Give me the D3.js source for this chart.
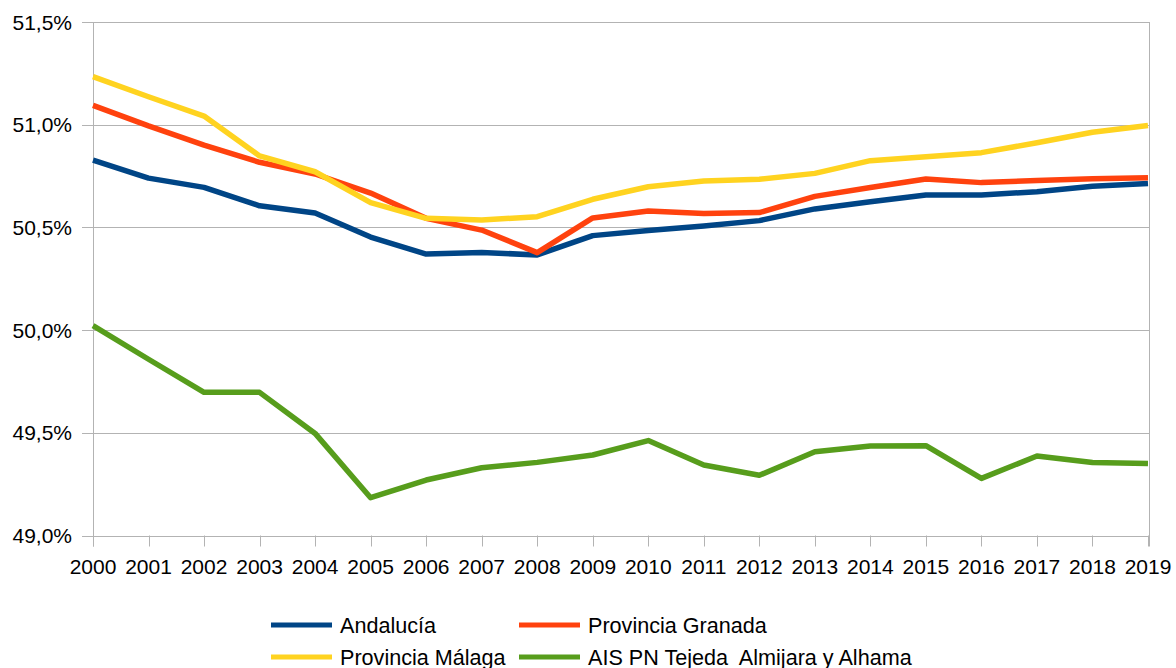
<!DOCTYPE html>
<html>
<head>
<meta charset="utf-8">
<script src="https://cdn.jsdelivr.net/npm/d3@7"></script>
<style>
  body { margin: 0; background: #fff; }
  svg text { font-family: "Liberation Sans", Arial, sans-serif; fill: #000; white-space: pre; }
</style>
</head>
<body>
<div id="visualization"></div>
<script>
// years on the x axis
var years = [2000, 2001, 2002, 2003, 2004, 2005, 2006, 2007, 2008, 2009,
             2010, 2011, 2012, 2013, 2014, 2015, 2016, 2017, 2018, 2019];

// values in %
var andalucia = [50.828, 50.740, 50.695, 50.605, 50.570, 50.453, 50.370, 50.378, 50.366, 50.460,
                 50.485, 50.507, 50.533, 50.590, 50.625, 50.658, 50.658, 50.674, 50.700, 50.714];
var granada   = [51.094, 50.994, 50.901, 50.817, 50.760, 50.667, 50.544, 50.487, 50.377, 50.546,
                 50.580, 50.568, 50.572, 50.651, 50.694, 50.736, 50.718, 50.728, 50.737, 50.742];
var malaga    = [51.234, 51.136, 51.042, 50.848, 50.771, 50.621, 50.544, 50.536, 50.552, 50.637,
                 50.698, 50.726, 50.734, 50.763, 50.825, 50.844, 50.864, 50.912, 50.963, 50.996];
var ais       = [50.022, 49.858, 49.697, 49.697, 49.497, 49.184, 49.270, 49.330, 49.356, 49.392,
                 49.462, 49.343, 49.293, 49.408, 49.436, 49.437, 49.278, 49.387, 49.355, 49.350];

var yTicks = [49.0, 49.5, 50.0, 50.5, 51.0, 51.5];

var seriesNames = ["Andalucía", "Provincia Granada", "Provincia Málaga", "AIS PN Tejeda  Almijara y Alhama"];
var seriesColors = ["#004586", "#ff420e", "#ffd320", "#579d1c"];
var seriesValues = [andalucia, granada, malaga, ais];

var width = 1176, height = 668;
// plot area (window.top is reserved, so no "top" here)
var plotLeft = 93, plotRight = 1148, plotTop = 22, plotBottom = 535.5;

var svg = d3.select("#visualization")
  .append("svg")
  .attr("width", width)
  .attr("height", height);

var x = d3.scaleLinear().domain([2000, 2019]).range([plotLeft, plotRight]);
var y = d3.scaleLinear().domain([49.0, 51.5]).range([plotBottom, plotTop]);

var fmt = function(d) { return d3.format(".1f")(d).replace(".", ",") + "%"; };

// horizontal gridlines
svg.append("g")
  .selectAll("line")
  .data(yTicks)
  .enter()
  .append("line")
  .attr("x1", plotLeft - 11)
  .attr("x2", plotRight + 1)
  .attr("y1", function(d) { return Math.round(y(d)) + 0.5; })
  .attr("y2", function(d) { return Math.round(y(d)) + 0.5; })
  .style("stroke", "#b3b3b3")
  .style("stroke-width", 1);

// y axis line + right border
svg.append("line")
  .attr("x1", plotLeft + 0.5).attr("x2", plotLeft + 0.5)
  .attr("y1", plotTop).attr("y2", plotBottom + 11)
  .style("stroke", "#b3b3b3");
svg.append("line")
  .attr("x1", plotRight + 1.5).attr("x2", plotRight + 1.5)
  .attr("y1", plotTop).attr("y2", plotBottom + 11)
  .style("stroke", "#b3b3b3");

// x ticks
svg.append("g")
  .selectAll("line")
  .data(years)
  .enter()
  .append("line")
  .attr("x1", function(d) { return Math.round(x(d)) + 0.5; })
  .attr("x2", function(d) { return Math.round(x(d)) + 0.5; })
  .attr("y1", plotBottom)
  .attr("y2", plotBottom + 11)
  .style("stroke", "#b3b3b3");

// y labels
svg.append("g")
  .selectAll("text")
  .data(yTicks)
  .enter()
  .append("text")
  .attr("x", 72)
  .attr("y", function(d) { return y(d) + 7.5; })
  .attr("text-anchor", "end")
  .style("font-size", "21px")
  .text(fmt);

// x labels
svg.append("g")
  .selectAll("text")
  .data(years)
  .enter()
  .append("text")
  .attr("x", function(d) { return x(d); })
  .attr("y", 574)
  .attr("text-anchor", "middle")
  .style("font-size", "21px")
  .text(function(d) { return d; });

// lines
var line = d3.line()
  .x(function(d, i) { return x(years[i]); })
  .y(function(d) { return y(d); });

seriesValues.forEach(function(vals, i) {
  svg.append("path")
    .datum(vals)
    .attr("d", line)
    .style("fill", "none")
    .style("stroke", seriesColors[i])
    .style("stroke-width", 5.5)
    .style("stroke-linejoin", "round");
});

// legend, 2 x 2
var legendPos = [[271, 625], [519, 625], [271, 657], [519, 657]];
var legend = svg.append("g")
  .selectAll("g")
  .data(seriesNames)
  .enter()
  .append("g")
  .attr("transform", function(d, i) { return "translate(" + legendPos[i][0] + "," + legendPos[i][1] + ")"; });

legend.append("line")
  .attr("x1", 0).attr("x2", 61)
  .attr("y1", 0).attr("y2", 0)
  .style("stroke", function(d, i) { return seriesColors[i]; })
  .style("stroke-width", 5);

legend.append("text")
  .attr("x", 69)
  .attr("y", 7.5)
  .style("font-size", "21.6px")
  .text(function(d) { return d; });
</script>
</body>
</html>
